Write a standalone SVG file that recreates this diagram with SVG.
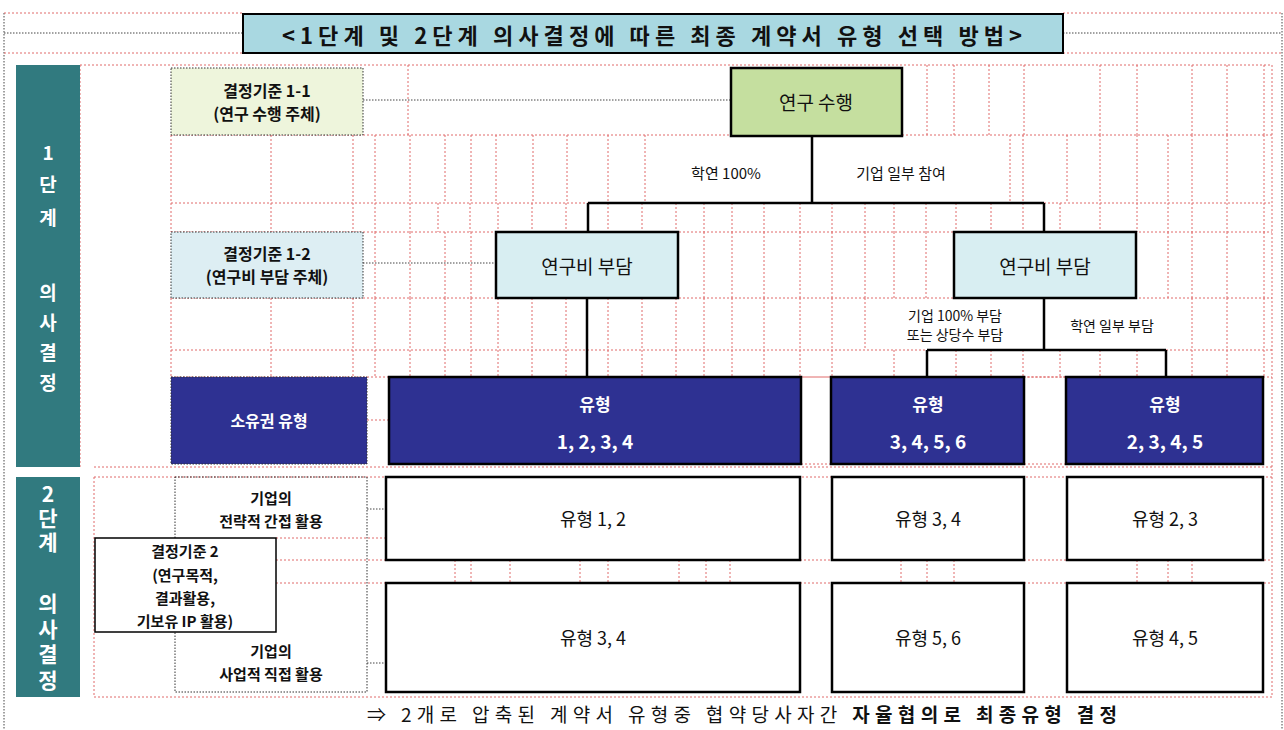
<svg xmlns="http://www.w3.org/2000/svg" width="1284" height="730" viewBox="0 0 1284 730">
<style>
.g{fill:none;stroke:#e06a6a;stroke-width:1;stroke-dasharray:2 2}
.k{fill:none;stroke:#444;stroke-width:1;stroke-dasharray:1.5 1.5}
.c{fill:none;stroke:#000;stroke-width:2.5}
.bx{stroke:#000;stroke-width:2.5}
.db{stroke:#333;stroke-width:1;stroke-dasharray:1.5 1.5}
text{font-family:"Noto Sans CJK KR","Liberation Sans",sans-serif;text-anchor:middle;dominant-baseline:central;fill:#111}
.b{font-weight:bold}
.w{fill:#fff;font-weight:bold}
.v{writing-mode:vertical-rl;text-orientation:upright}
.t1{font-size:19px}
.t2{font-size:21px}
.s14{font-size:14px}
.s15{font-size:15px}
.s16{font-size:16px}
.s17{font-size:17px}
.s18{font-size:18px}
.s19{font-size:19px}
</style>
<rect width="1284" height="730" fill="#fff"/>
<g id="grid">
<path class="k" d="M4 13V730M1282 13V730"/>
<path class="g" d="M4 13H243M1063 13H1282M4 53H243M1063 53H1282"/>
<path class="k" d="M4 33H243M1063 33H1282"/>
<path class="g" d="M80 65H1272M171 135H731M902 135H1272M171 203H588M1044 203H1272M171 232H1272M171 298H1272M171 350H927M1166 350H1272M171 377H1272M94 467H1272M94 477H1272M276 560H1272M276 583H1272M94 697H1272M1272 65V697M94 477V697M80 65V467"/>
<path class="g" d="M408 65V135M927 65V135M954 65V135M989 65V135M1024 65V135M1100 65V135M1137 65V135M1192 65V135M1227 65V135M1264 65V135"/>
<path class="g" d="M171 135V203M271 135V203M353 135V203M375 135V203M410 135V203M445 135V203M471 135V203M496 135V203M533 135V203M567 135V203M608 135V203M645 135V203M1010 135V203M1023 135V203M1067 135V203M1100 135V203M1137 135V203M1168 135V203M1192 135V203M1227 135V203M1264 135V203"/>
<path class="g" d="M171 203V232M271 203V232M353 203V232M375 203V232M410 203V232M438 203V232M470 203V232M498 203V232M532 203V232M566 203V232M608 203V232M642 203V232M676 203V232M704 203V232M732 203V232M764 203V232M800 203V232M832 203V232M865 203V232M894 203V232M926 203V232M956 203V232M991 203V232M1023 203V232M1060 203V232M1100 203V232M1137 203V232M1168 203V232M1192 203V232M1227 203V232M1264 203V232"/>
<path class="g" d="M375 232V298M410 232V298M445 232V298M471 232V298M704 232V298M732 232V298M764 232V298M800 232V298M832 232V298M865 232V298M894 232V298M926 232V298M1168 232V298M1192 232V298M1227 232V298M1264 232V298"/>
<path class="g" d="M171 298V377M271 298V377M353 298V377M375 298V377M410 298V377M445 298V377M471 298V377M498 298V377M532 298V377M566 298V377M608 298V377M642 298V377M676 298V377M704 298V377M732 298V377M764 298V377M800 298V377M832 298V377M865 298V350M1192 298V377M1227 298V377M1264 298V377"/>
<path class="g" d="M894 350V377M956 350V377M991 350V377M1023 350V377M1060 350V377M1100 350V377M1137 350V377"/>
<path class="g" d="M367 420H389M455 560V583M471 560V583M510 560V583M580 560V583M608 560V583M679 560V583M706 560V583M730 560V583M901 560V583M927 560V583M954 560V583M1137 560V583M1168 560V583M1192 560V583"/>
<path class="g" d="M276 538H386M801 377H832M1024 377H1067M801 464H832M1024 464H1067"/>
</g>
<g id="connectors">
<path class="k" d="M363 100H731M363 263H496M367 509H386M367 663H386"/>
<path class="c" d="M812 136V203M588 203H1044M588 203V232M1044 203V232M587 298V377M1044 298V350M927 350H1166M927 350V377M1166 350V377"/>
</g>
<g id="title">
<rect x="243" y="14" width="820" height="39" fill="#a9d8e1" stroke="#000" stroke-width="2"/>
<text x="652" y="34" class="b" font-size="22" textLength="740" lengthAdjust="spacing">&lt;1단계 및 2단계 의사결정에 따른 최종 계약서 유형 선택 방법&gt;</text>
</g>
<g id="stage1">
<rect x="16" y="65" width="64" height="402" fill="#317a7f"/>
<text class="w t1 v" x="48" y="192" letter-spacing="13.5">1단계</text>
<text class="w t1 v" x="48" y="343" letter-spacing="11">의사결정</text>
</g>
<g id="stage2">
<rect x="16" y="477" width="64" height="220" fill="#317a7f"/>
<text class="w t2 v" x="48" y="520" letter-spacing="3">2단계</text>
<text class="w t2 v" x="48" y="644" letter-spacing="4.7">의사결정</text>
</g>
<g id="criteria11">
<rect x="171" y="68" width="192" height="67" fill="#eef5dc" class="db"/>
<text class="b s16" x="267" y="90">결정기준 1-1</text>
<text class="b s16" x="267" y="113">(연구 수행 주체)</text>
</g>
<g id="research">
<rect x="731" y="68" width="171" height="68" fill="#c5df9f" class="bx"/>
<text class="s19" x="816" y="101">연구 수행</text>
</g>
<g id="lbl-academia"><text class="s15" x="726" y="172">학연 100%</text></g>
<g id="lbl-industry"><text class="s15" x="901" y="172">기업 일부 참여</text></g>
<g id="criteria12">
<rect x="171" y="232" width="192" height="66" fill="#ddeef3" class="db"/>
<text class="b s16" x="267" y="253">결정기준 1-2</text>
<text class="b s16" x="267" y="276">(연구비 부담 주체)</text>
</g>
<g id="cost-left">
<rect x="496" y="232" width="182" height="66" fill="#d8eef2" class="bx"/>
<text class="s19" x="587" y="265">연구비 부담</text>
</g>
<g id="cost-right">
<rect x="954" y="232" width="182" height="66" fill="#d8eef2" class="bx"/>
<text class="s19" x="1045" y="265">연구비 부담</text>
</g>
<g id="lbl-ind100">
<text class="s14" x="955" y="315">기업 100% 부담</text>
<text class="s14" x="955" y="334">또는 상당수 부담</text>
</g>
<g id="lbl-acpart"><text class="s14" x="1112" y="325">학연 일부 부담</text></g>
<g id="ownership">
<rect x="171" y="377" width="196" height="87" fill="#2e3192" class="db"/>
<text class="w s16" x="269" y="420">소유권 유형</text>
</g>
<g id="type1234">
<rect x="389" y="377" width="412" height="87" fill="#2e3192" class="bx"/>
<text class="w s17" x="595" y="403">유형</text>
<text class="w s19" x="595" y="440">1, 2, 3, 4</text>
</g>
<g id="type3456">
<rect x="831" y="377" width="193" height="87" fill="#2e3192" class="bx"/>
<text class="w s17" x="928" y="403">유형</text>
<text class="w s19" x="928" y="440">3, 4, 5, 6</text>
</g>
<g id="type2345">
<rect x="1066" y="377" width="197" height="87" fill="#2e3192" class="bx"/>
<text class="w s17" x="1165" y="403">유형</text>
<text class="w s19" x="1165" y="440">2, 3, 4, 5</text>
</g>
<g id="use-indirect">
<rect x="175" y="477" width="192" height="215" fill="none" class="db"/>
<text class="b s15" x="271" y="497">기업의</text>
<text class="b s15" x="271" y="520">전략적 간접 활용</text>
</g>
<g id="use-direct">
<text class="b s15" x="271" y="650">기업의</text>
<text class="b s15" x="271" y="673">사업적 직접 활용</text>
</g>
<g id="criteria2">
<rect x="95" y="538" width="181" height="94" fill="#fff" stroke="#000" stroke-width="1.5"/>
<text class="b s15" x="185" y="550">결정기준 2</text>
<text class="b s15" x="185" y="574">(연구목적,</text>
<text class="b s15" x="185" y="597">결과활용,</text>
<text class="b s15" x="185" y="620">기보유 IP 활용)</text>
</g>
<g id="r1c1"><rect x="386" y="477" width="414" height="83" fill="#fff" class="bx"/><text class="s18" x="593" y="518">유형 1, 2</text></g>
<g id="r1c2"><rect x="832" y="477" width="192" height="83" fill="#fff" class="bx"/><text class="s18" x="928" y="518">유형 3, 4</text></g>
<g id="r1c3"><rect x="1067" y="477" width="196" height="83" fill="#fff" class="bx"/><text class="s18" x="1165" y="518">유형 2, 3</text></g>
<g id="r2c1"><rect x="386" y="583" width="414" height="109" fill="#fff" class="bx"/><text class="s18" x="593" y="637">유형 3, 4</text></g>
<g id="r2c2"><rect x="832" y="583" width="192" height="109" fill="#fff" class="bx"/><text class="s18" x="928" y="637">유형 5, 6</text></g>
<g id="r2c3"><rect x="1067" y="583" width="196" height="109" fill="#fff" class="bx"/><text class="s18" x="1165" y="637">유형 4, 5</text></g>
<g id="note">
<text x="742" y="713" font-size="19" textLength="750" lengthAdjust="spacing">⇒ 2개로 압축된 계약서 유형중 협약당사자간 <tspan font-weight="bold">자율협의로 최종유형 결정</tspan></text>
</g>
</svg>
